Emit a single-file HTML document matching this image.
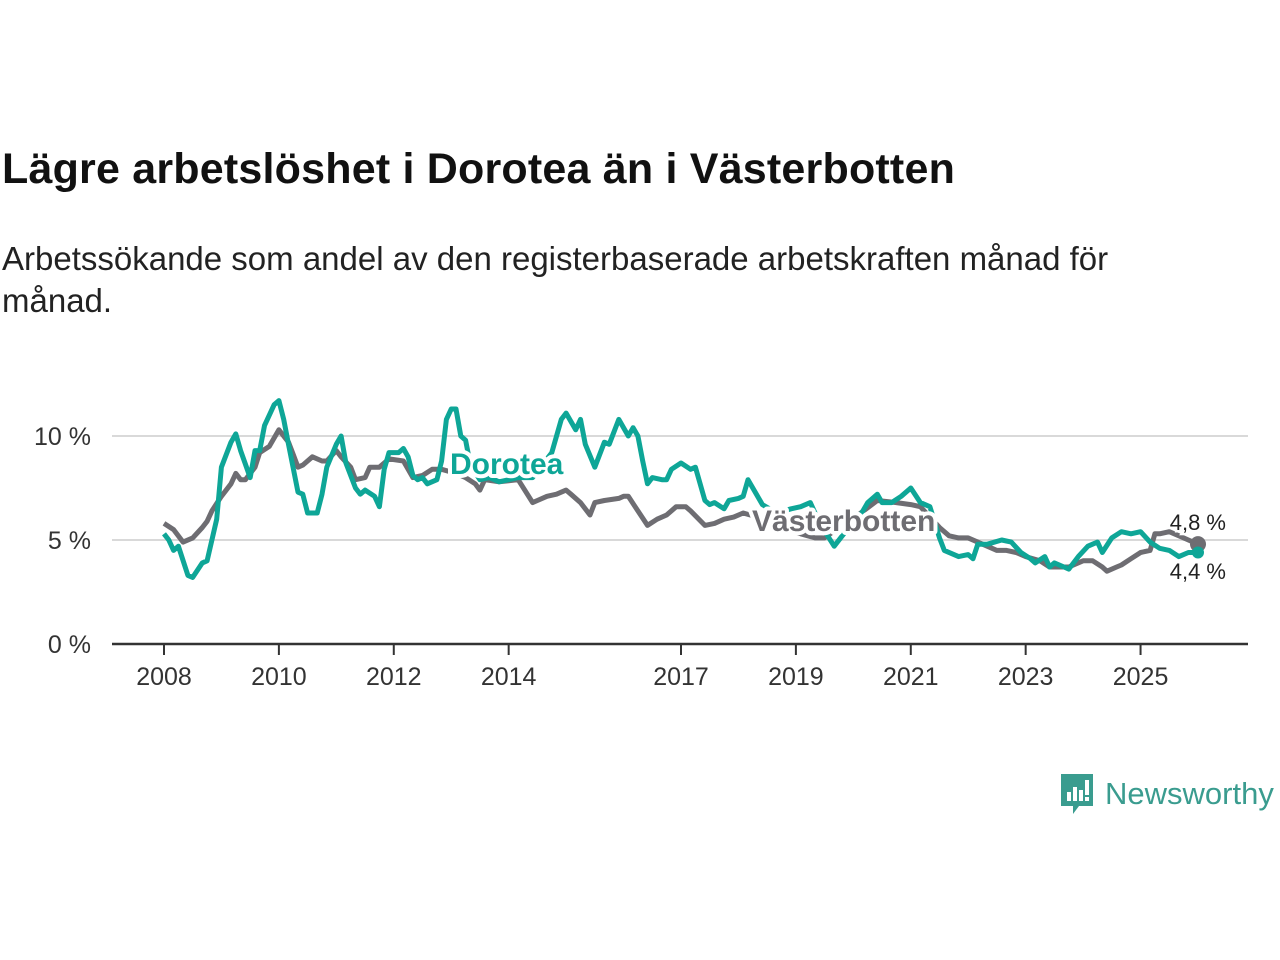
<!DOCTYPE html>
<html><head><meta charset="utf-8">
<style>
body{margin:0;background:#fff;width:1280px;height:960px;overflow:hidden;font-family:"Liberation Sans",sans-serif;}
#title{position:absolute;left:2px;top:145px;font-size:43px;font-weight:bold;color:#111;letter-spacing:0.2px}
#sub{position:absolute;left:2px;top:238px;font-size:33px;color:#222;line-height:42px;width:1200px}
svg{position:absolute;left:0;top:0}
</style></head><body>
<div id="title">Lägre arbetslöshet i Dorotea än i Västerbotten</div>
<div id="sub">Arbetssökande som andel av den registerbaserade arbetskraften månad för månad.</div>
<svg id="chart" width="1280" height="960"></svg>
<script>
// months since Jan 2008
const doroteaMonths=[0,1,2,3,5,6,8,9,11,12,14,15,16,18,19,20,21,23,24,25,26,28,29,30,32,33,34,36,37,38,40,41,42,44,45,46,47,49,50,51,52,53,54,55,57,58,59,60,61,62,63,64,66,68,70,74,77,81,83,84,86,87,88,90,92,93,95,97,98,99,100,101,102,104,105,106,108,110,111,113,114,115,117,118,120,121,122,123,125,128,131,133,135,137,140,142,145,147,149,150,152,154,156,158,160,162,163,166,168,169,170,172,175,177,179,181,182,184,185,186,188,189,191,193,195,196,198,200,202,204,206,208,210,212,214,216];
const doroteaValues=[5.3,5.0,4.5,4.7,3.3,3.2,3.9,4.0,6.0,8.5,9.7,10.1,9.3,8.0,9.3,9.3,10.5,11.5,11.7,10.8,9.6,7.3,7.2,6.3,6.3,7.2,8.5,9.6,10.0,8.7,7.5,7.2,7.4,7.1,6.6,8.4,9.2,9.2,9.4,9.0,8.1,7.9,8.0,7.7,7.9,8.8,10.8,11.3,11.3,10.0,9.8,8.6,7.9,8.0,7.8,8.0,8.0,9.2,10.8,11.1,10.3,10.8,9.6,8.5,9.7,9.6,10.8,10.0,10.4,10.0,8.8,7.7,8.0,7.9,7.9,8.4,8.7,8.4,8.5,6.9,6.7,6.8,6.5,6.9,7.0,7.1,7.9,7.5,6.7,6.3,6.5,6.6,6.8,5.8,4.7,5.3,6.0,6.8,7.2,6.8,6.8,7.1,7.5,6.8,6.6,5.1,4.5,4.2,4.3,4.1,4.8,4.8,5.0,4.9,4.4,4.1,3.9,4.2,3.7,3.9,3.7,3.6,4.2,4.7,4.9,4.4,5.1,5.4,5.3,5.4,4.9,4.6,4.5,4.2,4.4,4.4];
const vbMonths=[0,2,4,6,8,9,10,12,14,15,16,17,19,20,22,24,26,27,28,29,31,33,34,36,37,39,40,42,43,45,47,50,52,54,56,58,61,63,65,66,67,70,74,77,78,80,82,84,85,87,89,90,92,95,96,97,99,101,103,105,107,109,110,113,115,117,119,121,124,129,133,136,138,141,145,149,153,156,158,162,164,166,168,171,174,176,178,180,183,185,187,189,192,194,196,197,199,200,202,204,206,207,208,210,212,214,216];
const vbValues=[5.8,5.5,4.9,5.1,5.6,5.9,6.4,7.1,7.7,8.2,7.9,7.9,8.5,9.2,9.5,10.3,9.7,9.1,8.5,8.6,9.0,8.8,8.8,9.3,9.0,8.5,7.9,8.0,8.5,8.5,8.9,8.8,8.0,8.1,8.4,8.4,8.2,8.0,7.7,7.4,7.9,7.8,7.9,6.8,6.9,7.1,7.2,7.4,7.2,6.8,6.2,6.8,6.9,7.0,7.1,7.1,6.4,5.7,6.0,6.2,6.6,6.6,6.4,5.7,5.8,6.0,6.1,6.3,6.1,5.6,5.3,5.1,5.1,5.6,6.2,6.9,6.8,6.7,6.6,5.6,5.2,5.1,5.1,4.8,4.5,4.5,4.4,4.2,4.0,3.7,3.7,3.7,4.0,4.0,3.7,3.5,3.7,3.8,4.1,4.4,4.5,5.3,5.3,5.4,5.2,5.0,4.8];
const yTicks=[0,5,10];
const yTickLabels=["0 %","5 %","10 %"];
const xTickMonths=[0,24,48,72,108,132,156,180,204];
const xTickLabels=["2008","2010","2012","2014","2017","2019","2021","2023","2025"];

const NS="http://www.w3.org/2000/svg";
const svg=document.getElementById('chart');
const X=m=>164+m*(1034/216);
const Y=v=>644-v*20.8;
function mk(tag,attrs,parent){const e=document.createElementNS(NS,tag);for(const k in attrs)e.setAttribute(k,attrs[k]);(parent||svg).appendChild(e);return e;}

yTicks.forEach((t,i)=>{
  if(t>0){const g=mk('line',{x1:112,x2:1248,y1:Y(t),y2:Y(t),stroke:'#d9d9d9','stroke-width':2});
  
  }
  const l=mk('text',{x:91,y:Y(t)+9,'text-anchor':'end','font-size':25,fill:'#333','font-family':'Liberation Sans, sans-serif'});
  l.textContent=yTickLabels[i];
  
  
});
const ax=mk('line',{x1:112,x2:1248,y1:644,y2:644,stroke:'#333','stroke-width':2.5});


xTickMonths.forEach((m,i)=>{
  const t=mk('line',{x1:X(m),x2:X(m),y1:644,y2:655,stroke:'#333','stroke-width':2});
  
  
  const l=mk('text',{x:X(m),y:685,'text-anchor':'middle','font-size':25,fill:'#333','font-family':'Liberation Sans, sans-serif'});
  l.textContent=xTickLabels[i];
  
  
});
function pts(ms,vs){return ms.map((m,i)=>X(m).toFixed(1)+','+Y(vs[i]).toFixed(1)).join(' ');}
const vb=mk('polyline',{points:pts(vbMonths,vbValues),fill:'none',stroke:'#6e6d72','stroke-width':5,'stroke-linejoin':'round'});


const dr=mk('polyline',{points:pts(doroteaMonths,doroteaValues),fill:'none',stroke:'#0ea697','stroke-width':5,'stroke-linejoin':'round'});


const lastV=vbValues[vbValues.length-1],lastD=doroteaValues[doroteaValues.length-1];
const c1=mk('circle',{cx:X(vbMonths[vbMonths.length-1]),cy:Y(lastV),r:8,fill:'#6e6d72'});


const c2=mk('circle',{cx:X(doroteaMonths[doroteaMonths.length-1]),cy:Y(lastD),r:6,fill:'#0ea697'});


function lab(x,y,txt,col,name,anchor){
  const t=mk('text',{x:x,y:y,'font-size':30,'font-weight':'bold',fill:col,stroke:'#fff','stroke-width':8,'paint-order':'stroke','stroke-linejoin':'round','text-anchor':anchor||'start','font-family':'Liberation Sans, sans-serif'});
  t.textContent=txt;
  
  
}
lab(450,474,'Dorotea','#0ea697','dorotea-label');
lab(752,531,'Västerbotten','#6e6d72','vasterbotten-label');
function val(y,txt,name){
  const t=mk('text',{x:1226,y:y,'font-size':22,fill:'#222','text-anchor':'end',stroke:'#fff','stroke-width':5,'paint-order':'stroke','font-family':'Liberation Sans, sans-serif'});
  t.textContent=txt;
  
  
}
val(530,lastV.toFixed(1).replace('.',',')+' %','vasterbotten-value');
val(579,lastD.toFixed(1).replace('.',',')+' %','dorotea-value');
</script>
<div style="position:absolute;left:1059px;top:772px;display:flex;align-items:center">
<svg width="36" height="44" style="position:static" viewBox="0 0 36 44"><path d="M2 2H34V34H20L14 42V34H2Z" fill="#3a9c8f"/><rect x="8" y="20" width="4" height="9" fill="#fff"/><rect x="14" y="15" width="4" height="14" fill="#fff"/><rect x="20" y="18" width="4" height="11" fill="#fff"/><rect x="26" y="8" width="4" height="15" fill="#fff"/><rect x="26" y="25" width="4" height="4" fill="#fff"/></svg>
<span style="font-size:31px;color:#3a9c8f;margin-left:10px">Newsworthy</span></div>
</body></html>
